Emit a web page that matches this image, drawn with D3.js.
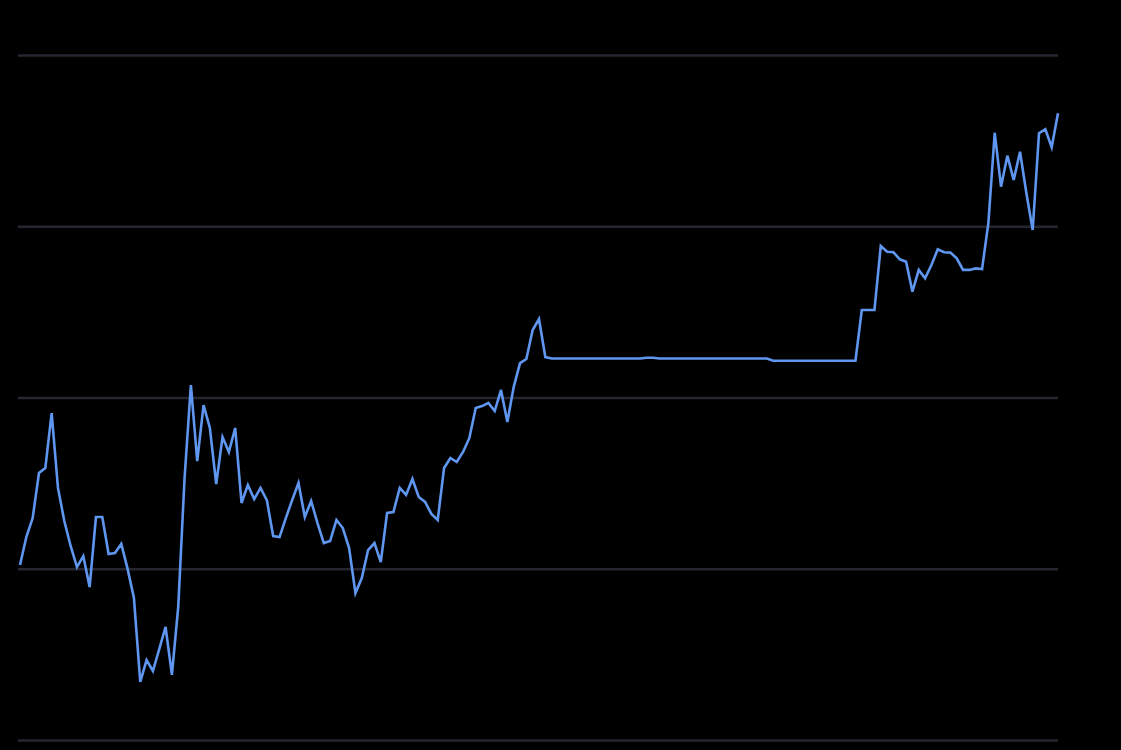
<!DOCTYPE html>
<html>
<head>
<meta charset="utf-8">
<script src="https://cdn.jsdelivr.net/npm/d3@7"></script>
<style>
  html, body { margin: 0; padding: 0; background: #000; }
  svg { display: block; }
</style>
</head>
<body>
<svg id="chart" width="1121" height="750"></svg>
<script>
// Series values (one per period)
const values = [
  10.22, 11.85, 12.96, 15.59, 15.88, 19.09, 14.72, 12.79, 11.33, 10.10,
  10.74, 8.93, 13.02, 13.02, 10.86, 10.92, 11.45, 9.99, 8.29, 3.39,
  4.67, 4.03, 5.31, 6.60, 3.80, 7.77, 15.30, 20.73, 16.29, 19.56,
  18.22, 14.95, 17.69, 16.82, 18.22, 13.84, 14.89, 14.07, 14.72, 14.01,
  11.91, 11.85, 12.96, 14.01, 15.01, 13.02, 13.96, 12.67, 11.50, 11.62,
  12.85, 12.38, 11.21, 8.58, 9.46, 11.09, 11.50, 10.39, 13.26, 13.31,
  14.72, 14.31, 15.24, 14.19, 13.90, 13.20, 12.85, 15.88, 16.47, 16.23,
  16.82, 17.64, 19.39, 19.50, 19.68, 19.21, 20.44, 18.57, 20.61, 22.01,
  22.25, 23.94, 24.58, 22.36, 22.28, 22.28, 22.28, 22.28, 22.28, 22.28,
  22.28, 22.28, 22.28, 22.28, 22.28, 22.28, 22.28, 22.28, 22.28, 22.32,
  22.32, 22.28, 22.28, 22.28, 22.28, 22.28, 22.28, 22.28, 22.28, 22.28,
  22.28, 22.28, 22.28, 22.28, 22.28, 22.28, 22.28, 22.28, 22.28, 22.15,
  22.15, 22.15, 22.15, 22.15, 22.15, 22.15, 22.15, 22.15, 22.15, 22.15,
  22.15, 22.15, 22.15, 25.11, 25.11, 25.11, 28.85, 28.51, 28.48, 28.07,
  27.93, 26.18, 27.45, 26.96, 27.74, 28.65, 28.48, 28.46, 28.13, 27.45,
  27.45, 27.54, 27.50, 30.19, 35.46, 32.31, 34.12, 32.70, 34.35, 31.94,
  29.78, 35.43, 35.66, 34.61, 36.60
];
// Y gridline tick values
const yTicks = [0, 10, 20, 30, 40];

const svg = d3.select("#chart");

const x = d3.scaleLinear()
  .domain([0, values.length - 1])
  .range([20, 1058]);

const y = d3.scaleLinear()
  .domain([0, 40])
  .range([740, 55]);

// Gridlines
const grid = svg.append("g")
  .attr("transform", "translate(1058,0)")
  .call(d3.axisLeft(y).tickValues(yTicks).tickSize(1040).tickFormat(""));
grid.select(".domain").remove();
grid.selectAll(".tick line")
  .attr("stroke", "#262630")
  .attr("stroke-width", 2.5);

// Line
const line = d3.line()
  .x((d, i) => x(i))
  .y(d => y(d));

svg.append("path")
  .datum(values)
  .attr("fill", "none")
  .attr("stroke", "#5f96f0")
  .attr("stroke-width", 2.6)
  .attr("stroke-linejoin", "miter")
  .attr("d", line);
</script>
</body>
</html>
